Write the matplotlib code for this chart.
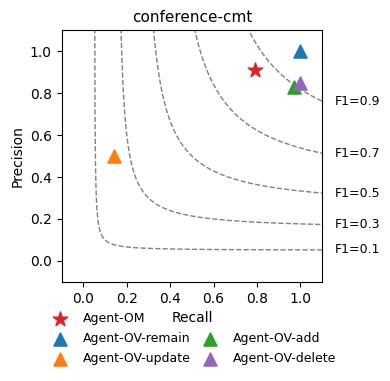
import numpy as np
import matplotlib
matplotlib.use("Agg")
import matplotlib.pyplot as plt
from matplotlib.lines import Line2D

# data
names = ["Agent-OM", "Agent-OV-remain", "Agent-OV-update", "Agent-OV-add", "Agent-OV-delete"]
recall = [0.79, 1.0, 0.14, 0.97, 1.0]
precision = [0.91, 1.0, 0.50, 0.83, 0.85]
markers = ["*", "^", "^", "^", "^"]
colors = ["tab:red", "tab:blue", "tab:orange", "tab:green", "tab:purple"]
f1_levels = [0.1, 0.3, 0.5, 0.7, 0.9]

fig = plt.figure(figsize=(3.9, 3.81), dpi=100)
ax = fig.add_axes([0.158, 0.26, 0.668, 0.661])

for f in f1_levels:
    x = np.linspace(0.01, 1.1, 500)
    y = f * x / (2 * x - f)
    keep = (y >= 0) & (2 * x - f > 0)
    ax.plot(x[keep], y[keep], color="gray", linestyle="--", linewidth=1)
    y_end = f * 1.1 / (2.2 - f)
    ax.text(1.16, y_end, f"F1={f}", va="center", ha="left", fontsize=9)

handles = []
for n, r, p, m, c in zip(names, recall, precision, markers, colors):
    h = ax.scatter(r, p, marker=m, color=c, s=120 if m == "*" else 90, label=n, zorder=3)
    handles.append(h)

ax.set_xlim(-0.1, 1.1)
ax.set_ylim(-0.1, 1.1)
ax.set_xticks([0.0, 0.2, 0.4, 0.6, 0.8, 1.0])
ax.set_yticks([0.0, 0.2, 0.4, 0.6, 0.8, 1.0])
ax.set_xlabel("Recall")
ax.set_ylabel("Precision")
ax.set_title("conference-cmt", fontsize=11)

blank = Line2D([], [], linestyle="none", marker=None)
order = [handles[0], handles[1], handles[2], blank, handles[3], handles[4]]
labels = [names[0], names[1], names[2], "", names[3], names[4]]
ax.legend(order, labels, ncol=2, loc="upper center", bbox_to_anchor=(0.50, -0.075),
          frameon=False, fontsize=9, handletextpad=0.8, columnspacing=0.6,
          labelspacing=0.55)

fig.savefig("out.png", dpi=100)
